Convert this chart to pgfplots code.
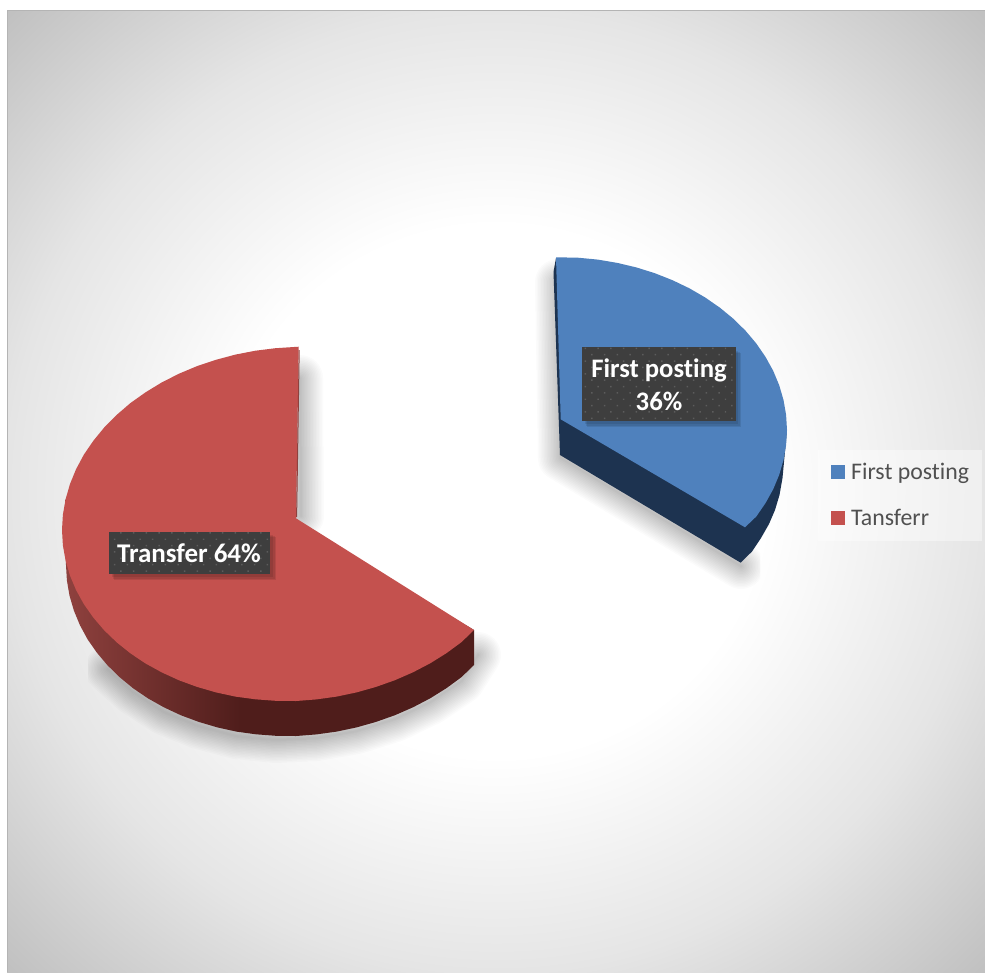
\documentclass[border=0pt]{standalone}
\usepackage{fontspec}
\setmainfont[Ligatures={NoCommon}]{Carlito}
\usepackage{pgfplots}
\pgfplotsset{compat=1.18}
\usetikzlibrary{patterns.meta}

\definecolor{blueface}{HTML}{4F81BD}
\definecolor{bluewall}{HTML}{1D3350}
\definecolor{redface}{HTML}{C4514E}
\definecolor{redwallA}{HTML}{8F413E}
\definecolor{redwallB}{HTML}{4F1D1B}
\definecolor{tagfill}{HTML}{3E3E3E}
\definecolor{tagdot}{HTML}{5C5C5C}
\definecolor{legtext}{HTML}{505050}
\definecolor{bgA}{HTML}{E5E5E5}
\definecolor{bgB}{HTML}{C0C0C0}
\definecolor{edgeline}{HTML}{B4B4B4}

% backdrop glow and the lit side wall of the larger slice
\pgfdeclareradialshading{backglow}{\pgfpoint{0bp}{0bp}}{
  color(0bp)=(white); color(13.8bp)=(white); color(25bp)=(bgA);
  color(35.4bp)=(bgB); color(50bp)=(bgB)}
\pgfdeclarehorizontalshading{redside}{100bp}{
  color(0bp)=(redwallA); color(25bp)=(redwallA);
  color(46.5bp)=(redwallB); color(100bp)=(redwallB)}

% soft drop shadow, built from nested translucent strokes
\newcommand{\shadowlayer}[2]{%
  \draw[black,opacity=.015,line width=#1pt,line join=round,line cap=round] #2;}
\newcommand{\softshadow}[1]{%
  \shadowlayer{46}{#1}\shadowlayer{43}{#1}\shadowlayer{40}{#1}\shadowlayer{37}{#1}%
  \shadowlayer{34}{#1}\shadowlayer{31}{#1}\shadowlayer{28}{#1}\shadowlayer{25}{#1}%
  \shadowlayer{22}{#1}\shadowlayer{19}{#1}\shadowlayer{16}{#1}\shadowlayer{13}{#1}%
  \shadowlayer{10}{#1}\shadowlayer{7}{#1}\shadowlayer{4}{#1}\shadowlayer{2}{#1}%
}
\newcommand{\tagshadow}[1]{%
  \fill[black,opacity=.09] #1;
}

\begin{document}
\begin{tikzpicture}
\begin{axis}[
  scale only axis, width=985pt, height=972pt,
  xmin=0, xmax=985, ymin=0, ymax=972, y dir=reverse,
  axis lines=none, ticks=none,
  legend style={at={(axis cs:829,459)},anchor=north west,draw=none,fill=none,
    text=legtext,font=\fontsize{23.8}{28}\selectfont,row sep=24pt,
    column sep=4pt,inner sep=2pt},
  legend cell align=left,
  legend image code/.code={\fill[draw=none,#1] (0pt,-7pt) rectangle (14pt,7pt);},
]
% page and backdrop
\fill[white] (0,0) rectangle (985,972);
\shade[shading=backglow] (7,10) rectangle (985,972);
\draw[edgeline,line width=1pt] (7,972) -- (7,10) -- (985,10);

% shadows cast by the larger slice
\begin{scope}
  \clip (88,340) rectangle (985,800);
  \softshadow{(300,378) -- (301,516)}
  \softshadow{(478,655) -- (461.5,681) -- (430.2,702) -- (394.9,719) -- (356.6,731)
     -- (316.4,738) -- (276,740) -- (236.4,736) -- (198.8,726) -- (164.1,712)
     -- (133.3,692) -- (107.6,669)}
\end{scope}
% shadows cast by the smaller slice
\begin{scope}
  \clip (500,240) rectangle (760,700);
  \softshadow{(558,282) -- (561,458) -- (741,566)}
\end{scope}

\addlegendimage{fill=blueface}
\addlegendentry{First posting}
\addlegendimage{fill=redface}
\addlegendentry{Tansferr}

% side wall of the larger slice
\addplot[forget plot,shade,shading=redside,draw=none] coordinates {
 (474,630) (474,665) (461.5,677.1) (446.4,688.2) (430.2,698.3) (413,707.3)
 (394.9,715.2) (376,721.9) (356.6,727.4) (336.6,731.6) (316.4,734.4) (296,736)
 (276,735.8) (256,734.3) (236.4,731.6) (217.4,727.4) (198.8,721.9) (181,715.3)
 (164.1,707.4) (148.2,698.5) (133.3,688.4) (119.9,677.4) (107.6,665.4) (96.9,652.7)
 (87.5,639.2) (79.9,625.1) (73.9,610.6) (69.5,595.6) (66.9,580.4) (66,565)
 (65.6,499) (296,524)} -- cycle;
% top face of the larger slice: 64 %
\addplot[forget plot,fill=redface,draw=none] coordinates {
 (296,518.3) (474,630) (461.5,642.1) (446.4,653.2) (430.2,663.3) (413,672.3)
 (394.9,680.2) (376,686.9) (356.6,692.4) (336.6,696.6) (316.4,699.4) (296,701)
 (275.6,700.8) (255.4,699.3) (235.4,696.6) (216,692.4) (197.1,686.9) (179,680.3)
 (161.8,672.4) (145.6,663.5) (130.5,653.4) (116.8,642.4) (104.3,630.4) (93.4,617.7)
 (83.9,604.2) (76.1,590.1) (70,575.6) (65.6,560.6) (62.9,545.4) (62,530)
 (62.9,514.6) (65.6,499.2) (70,484) (76.1,469.1) (83.9,454.6) (93.4,440.7)
 (104.3,427.4) (116.8,414.8) (130.5,403) (145.6,392.3) (161.8,382.4) (179,373.7)
 (197.1,366.1) (216,359.8) (235.4,354.6) (255.4,350.7) (275.6,348.2) (298.7,346.7)
} -- cycle;
\addplot[forget plot,draw=redwallA,line width=1pt] coordinates {(299.2,350) (296.6,517)};

% side wall of the smaller slice
\addplot[forget plot,fill=bluewall,draw=none] coordinates {
 (556,258) (553.5,272) (560,455) (740.7,562.7) (752,551.5) (761,538) (769,524)
 (775,510) (779.5,495) (782.5,478) (784,462) (787,430) (700,350)} -- cycle;
% top face of the smaller slice: 36 %
\addplot[forget plot,fill=blueface,draw=none] coordinates {
 (560.7,419.3) (556,257.3) (578,257.7) (597.8,259.6) (617.3,262.9) (636.3,267.4)
 (654.8,273.2) (672.5,280.2) (689.4,288.3) (705.2,297.5) (719.9,307.7) (733.4,318.8)
 (745.6,330.8) (756.3,343.5) (765.5,356.9) (773.2,370.8) (779.2,385.2) (783.5,400)
 (786.1,414.9) (787,430) (786.1,445.1) (783.5,460) (779.2,474.8) (773.2,489.2)
 (765.5,503.1) (756.3,516.5) (745,527.3)} -- cycle;

% data labels
\tagshadow{(587,353) rectangle (741,427)}
\tagshadow{(586,352) rectangle (740,426)}
\tagshadow{(585,351) rectangle (738,424)}
\fill[tagfill] (582.3,347.3) rectangle (735.7,420.7);
\fill[pattern={Dots[radius=1.05pt,distance=9pt,angle=45]},pattern color=tagdot]
  (582.3,347.3) rectangle (735.7,420.7);
\node[white,align=center,font=\fontsize{26.7}{33}\selectfont\bfseries,inner sep=0pt]
  at (659,385) {First posting\\36\%};

\tagshadow{(114,537) rectangle (276,580)}
\tagshadow{(113,536) rectangle (275,579)}
\tagshadow{(112,535) rectangle (273,577)}
\fill[tagfill] (109,531.7) rectangle (270,574);
\fill[pattern={Dots[radius=1.05pt,distance=9pt,angle=45]},pattern color=tagdot]
  (109,531.7) rectangle (270,574);
\node[white,font=\fontsize{27}{30}\selectfont\bfseries,inner sep=0pt]
  at (189,553.5) {Transfer 64\%};

% legend panel
\fill[white,opacity=.4] (818,450) rectangle (982,541);
\end{axis}
\end{tikzpicture}
\end{document}
